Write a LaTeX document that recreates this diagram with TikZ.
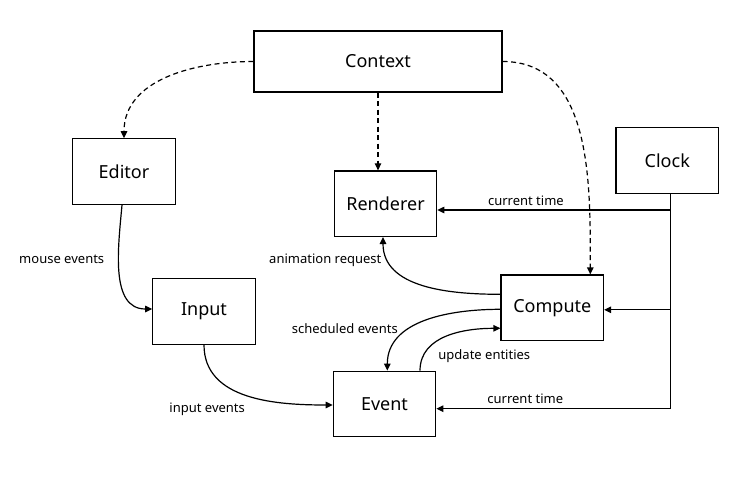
\documentclass[tikz,border=0pt]{standalone}
\usepackage{fontspec}
\setmainfont{Noto Sans}
\usetikzlibrary{arrows.meta}

\begin{document}
\begin{tikzpicture}[x=1pt, y=1pt, line width=1.2pt,
    box/.style={draw, minimum width=102.5pt, minimum height=65.5pt, inner sep=0pt, font=\fontsize{18}{20}\selectfont},
    lbl/.style={inner sep=2pt, font=\fontsize{13}{15}\selectfont},
    flow/.style={-{Triangle[length=7pt, width=6.5pt]}},
    ctx/.style={flow, dash pattern=on 5pt off 3.5pt}]
  \useasboundingbox (0, 0) rectangle (741, -492);

  \node[box, minimum width=248pt, minimum height=61pt] (context) at (378, -61.5) {Context};
  \node[box] (editor) at (124, -171.5) {Editor};
  \node[box] (renderer) at (385.5, -203.7) {Renderer};
  \node[box] (clock) at (667.3, -160.5) {Clock};
  \node[box] (input) at (204, -311.5) {Input};
  \node[box] (compute) at (552.3, -307.8) {Compute};
  \node[box] (event) at (384.5, -404) {Event};

  % context
  \draw[ctx] (context.west) to[out=180, in=90] (editor.north);
  \draw[ctx] (context.south) -- (context.south |- renderer.north);
  \draw[ctx] (context.east) to[out=0, in=90] ([xshift=38pt]compute.north);

  % clock
  \draw[flow] ([xshift=3pt]clock.south) |- ([yshift=-6.3pt]renderer.east) node[lbl, above=2pt, pos=0.81] {current time};
  \draw[flow] ([xshift=3pt]clock.south) |- ([yshift=-2pt]compute.east);
  \draw[flow] ([xshift=3pt]clock.south) |- ([yshift=-4.7pt]event.east) node[lbl, above=2pt, pos=0.81] {current time};

  \draw[flow] ([xshift=-2pt]editor.south) to[out=-95, in=180] node[lbl, pos=0.4, left=12pt] {mouse events} ([yshift=2.5pt]input.west);
  \draw[flow] (input.south) to[out=-90, in=180] node[lbl, pos=0.5, anchor=north east, yshift=-5pt] {input events} ([yshift=-1pt]event.west);

  \draw[flow] ([yshift=13.5pt]compute.west) to[out=180, in=-90] node[lbl, pos=0.82, left=5pt] {animation request} ([xshift=-2.5pt]renderer.south);
  \draw[flow] ([yshift=-1.5pt]compute.west) to[out=180, in=90] node[lbl, pos=0.62, left=10pt] {scheduled events} ([xshift=2.8pt]event.north);
  \draw[flow] ([xshift=35.5pt]event.north) to[out=90, in=180] node[lbl, pos=0.15, right=13pt] {update entities} ([yshift=-20.5pt]compute.west);
\end{tikzpicture}
\end{document}
